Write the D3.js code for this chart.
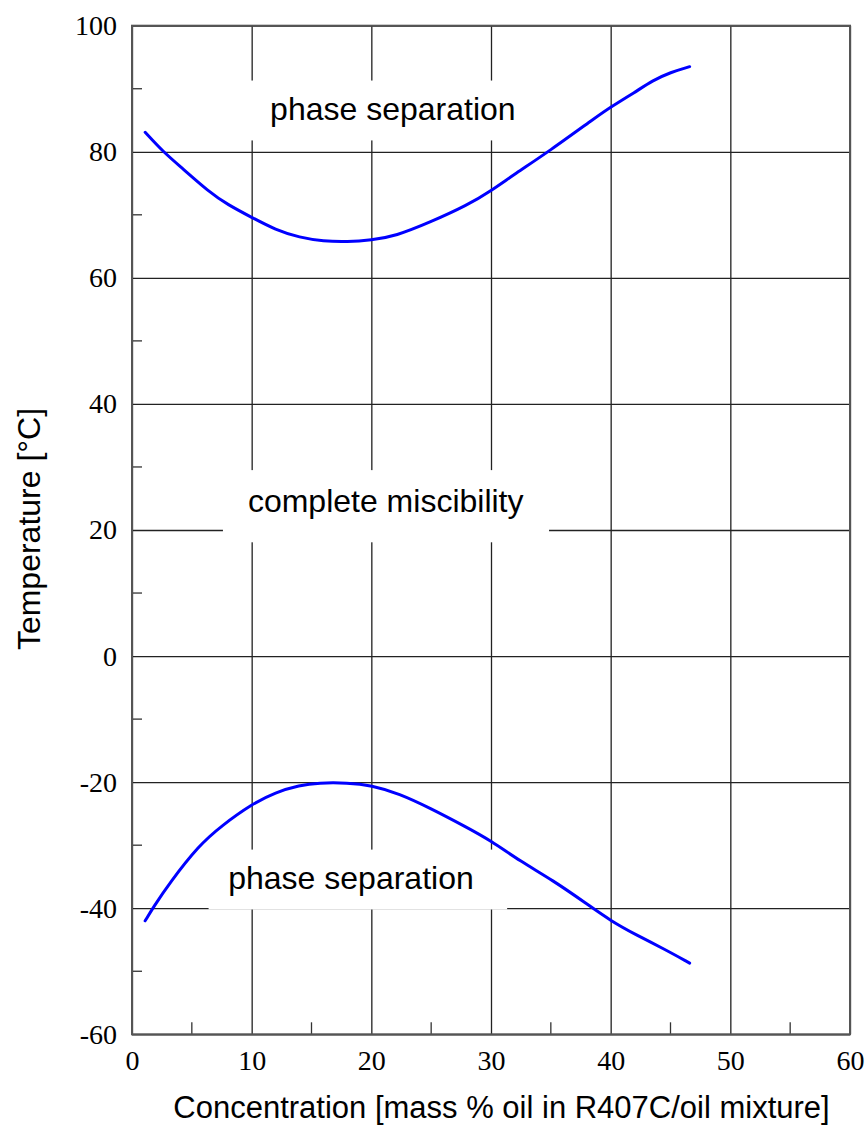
<!DOCTYPE html>
<html>
<head>
<meta charset="utf-8">
<script src="https://cdn.jsdelivr.net/npm/d3@7"></script>
<style>
  body { margin: 0; background: #fff; }
</style>
</head>
<body>
<svg id="chart" width="865" height="1126"></svg>
<script>
// upper miscibility limit
const upperX = [1.1, 2.6, 4.2, 6.4, 8, 10, 12, 14, 16, 18, 20, 22, 25, 28, 30, 32, 34.8, 39, 40, 42, 43.5, 45, 46.6];
const upperY = [83.1, 80, 77.4, 73.7, 71.6, 69.6, 67.6, 66.4, 65.8, 65.7, 66, 66.6, 68.9, 71.5, 73.8, 76.5, 80, 85.8, 87.1, 89.4, 91.3, 92.6, 93.5];
// lower miscibility limit
const lowerX = [1.1, 1.8, 3.1, 5.6, 7.5, 10, 12, 14, 15.6, 18, 20, 22.3, 25, 27.9, 30, 32.4, 35.2, 38, 40, 42.2, 44.4, 46.6];
const lowerY = [-42, -39.8, -36.1, -30, -26.9, -23.5, -21.6, -20.5, -20.1, -20.1, -20.5, -21.8, -24.2, -27.1, -29.3, -32.5, -35.6, -39.3, -42, -44.3, -46.4, -48.7];

const xTicks = [0, 10, 20, 30, 40, 50, 60];
const xMinor = [5, 15, 25, 35, 45, 55];
const yTicks = [-60, -40, -20, 0, 20, 40, 60, 80, 100];
const yMinor = [-50, -30, -10, 10, 30, 50, 70, 90];

const labelText = ["phase separation", "complete miscibility", "phase separation"];
const labelX = [21.8, 21.2, 18.3];
const labelY = [85.0, 22.8, -37.0];
// white boxes behind labels: [x0, x1, y0, y1] in data units
const labelBox = [[9.5, 34.1, 81.8, 91.3], [7.6, 34.85, 18.05, 29.5], [6.4, 31.35, -40.2, -30.7]];

const xTitle = "Concentration [mass % oil in R407C/oil mixture]";
const yTitle = "Temperature [°C]";

const svg = d3.select("#chart");
const plotLeft = 132, plotRight = 850, plotTop = 25.7, plotBottom = 1034.3;

const x = d3.scaleLinear().domain([0, 60]).range([plotLeft, plotRight]);
const y = d3.scaleLinear().domain([-60, 100]).range([plotBottom, plotTop]);

const serif = "'Liberation Serif', 'Times New Roman', serif";
const sans = "'Liberation Sans', Arial, sans-serif";

// grid
svg.append("g")
    .attr("transform", `translate(0,${plotBottom})`)
    .call(d3.axisBottom(x).tickValues(xTicks).tickSize(-(plotBottom - plotTop)).tickFormat(""))
    .call(g => g.select(".domain").remove())
    .call(g => g.selectAll("line").attr("stroke", "#222").attr("stroke-width", 1.3));
svg.append("g")
    .attr("transform", `translate(${plotLeft},0)`)
    .call(d3.axisLeft(y).tickValues(yTicks).tickSize(-(plotRight - plotLeft)).tickFormat(""))
    .call(g => g.select(".domain").remove())
    .call(g => g.selectAll("line").attr("stroke", "#222").attr("stroke-width", 1.3));

// minor ticks
svg.append("g").selectAll("line").data(xMinor).join("line")
    .attr("x1", d => x(d)).attr("x2", d => x(d))
    .attr("y1", plotBottom).attr("y2", plotBottom - 12)
    .attr("stroke", "#333").attr("stroke-width", 1.3);
svg.append("g").selectAll("line").data(yMinor).join("line")
    .attr("x1", plotLeft).attr("x2", plotLeft + 10)
    .attr("y1", d => y(d)).attr("y2", d => y(d))
    .attr("stroke", "#333").attr("stroke-width", 1.3);

// label boxes
svg.append("g").selectAll("rect").data(labelBox).join("rect")
    .attr("x", d => x(d[0]))
    .attr("y", d => y(d[3]))
    .attr("width", d => x(d[1]) - x(d[0]))
    .attr("height", d => y(d[2]) - y(d[3]))
    .attr("fill", "#fff");

// frame
svg.append("rect")
    .attr("x", plotLeft).attr("y", plotTop)
    .attr("width", plotRight - plotLeft).attr("height", plotBottom - plotTop)
    .attr("fill", "none").attr("stroke", "#555").attr("stroke-width", 2);

// tick labels (plain hyphen for negatives, as in the original)
svg.append("g")
    .attr("transform", `translate(0,${plotBottom})`)
    .attr("font-family", serif)
    .call(d3.axisBottom(x).tickValues(xTicks).tickSize(0).tickPadding(16).tickFormat(d => String(d)))
    .call(g => g.select(".domain").remove())
    .call(g => g.selectAll("text")
        .attr("font-family", serif)
        .attr("font-size", 28).attr("fill", "#000"));
svg.append("g")
    .attr("transform", `translate(${plotLeft},0)`)
    .call(d3.axisLeft(y).tickValues(yTicks).tickSize(0).tickPadding(15).tickFormat(d => String(d)))
    .call(g => g.select(".domain").remove())
    .call(g => g.selectAll("text")
        .attr("font-family", serif)
        .attr("font-size", 28).attr("fill", "#000"));

// curves
const line = d3.line()
    .x(d => x(d[0]))
    .y(d => y(d[1]))
    .curve(d3.curveBasis);

[d3.zip(upperX, upperY), d3.zip(lowerX, lowerY)].forEach(pts => {
    svg.append("path")
        .datum(pts)
        .attr("d", line)
        .attr("fill", "none")
        .attr("stroke", "#0000ff")
        .attr("stroke-width", 3)
        .attr("stroke-linecap", "round");
});

// region labels
svg.append("g").selectAll("text").data(labelText).join("text")
    .attr("x", (d, i) => x(labelX[i]))
    .attr("y", (d, i) => y(labelY[i]))
    .attr("text-anchor", "middle")
    .attr("font-family", sans)
    .attr("font-size", 32)
    .attr("fill", "#000")
    .text(d => d);

// axis titles
svg.append("text")
    .attr("x", 501.5).attr("y", 1118)
    .attr("text-anchor", "middle")
    .attr("font-family", sans)
    .attr("font-size", 31)
    .text(xTitle);
svg.append("text")
    .attr("transform", "translate(40,529) rotate(-90)")
    .attr("text-anchor", "middle")
    .attr("font-family", sans)
    .attr("font-size", 32)
    .text(yTitle);
</script>
</body>
</html>
